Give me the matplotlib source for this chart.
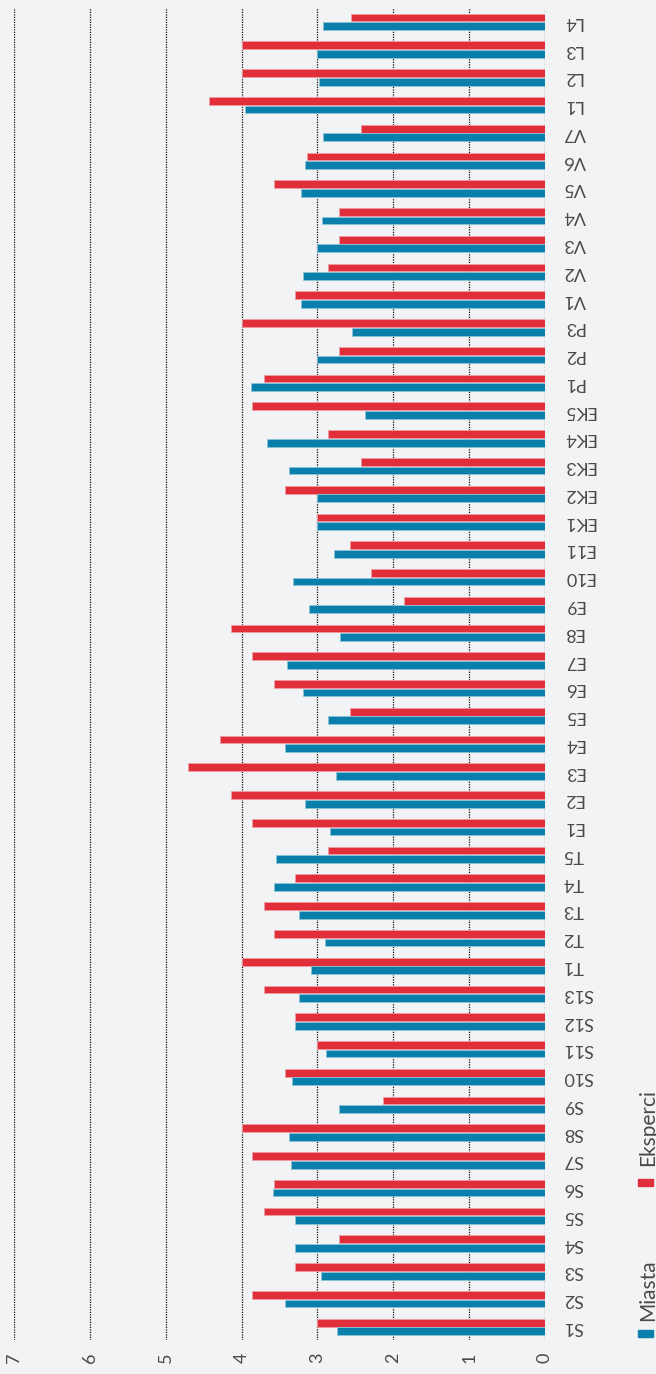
import numpy as np
import matplotlib
matplotlib.use("Agg")
import matplotlib.pyplot as plt
from matplotlib.patches import Rectangle

plt.rcParams['font.family'] = ['Lato', 'DejaVu Sans']

# kategorie od dołu (S1) do góry (L4)
labels = (['S%d' % i for i in range(1, 14)] + ['T%d' % i for i in range(1, 6)]
          + ['E%d' % i for i in range(1, 12)] + ['EK%d' % i for i in range(1, 6)]
          + ['P%d' % i for i in range(1, 4)] + ['V%d' % i for i in range(1, 8)]
          + ['L%d' % i for i in range(1, 5)])

miasta = [2.74, 3.43, 2.95, 3.30, 3.29, 3.58, 3.35, 3.38, 2.71, 3.33, 2.89, 3.30, 3.24,
          3.08, 2.90, 3.24, 3.57, 3.54,
          2.84, 3.16, 2.76, 3.43, 2.86, 3.19, 3.40, 2.70, 3.11, 3.32, 2.78,
          3.00, 3.00, 3.38, 3.67, 2.37,
          3.87, 3.01, 2.54,
          3.22, 3.19, 3.00, 2.94, 3.21, 3.16, 2.93,
          3.95, 2.98, 3.00, 2.92]

eksperci = [3.00, 3.86, 3.29, 2.71, 3.71, 3.57, 3.86, 4.00, 2.14, 3.43, 3.00, 3.29, 3.71,
            4.00, 3.57, 3.71, 3.29, 2.86,
            3.86, 4.14, 4.71, 4.29, 2.57, 3.57, 3.86, 4.14, 1.86, 2.29, 2.57,
            3.00, 3.43, 2.43, 2.86, 3.86,
            3.71, 2.71, 4.00,
            3.29, 2.86, 2.71, 2.71, 3.57, 3.14, 2.42,
            4.43, 4.00, 4.00, 2.56]

blue = '#0a7fab'
red = '#e02f3b'
bg = '#f2f3f5'
txt = '#4a4a4a'

fig = plt.figure(figsize=(6.56, 13.74), dpi=100, facecolor=bg)
ax = fig.add_axes([14 / 656, 1 - 1340 / 1374, (545 - 14) / 656, 1332 / 1374])
ax.set_facecolor(bg)

y = np.arange(len(labels))
h = 0.28
ax.barh(y + 0.155, eksperci, height=h, color=red, edgecolor='#ee9ea4', linewidth=0.6, zorder=3)
ax.barh(y - 0.155, miasta, height=h, color=blue, edgecolor='#8cc3d8', linewidth=0.6, zorder=3)

ax.set_xlim(7, 0)
ax.set_ylim(-0.47, 47.5)
ax.set_xticks(range(8))
ax.set_xticklabels([str(i) for i in range(8)], rotation=90, fontsize=13, color=txt)
ax.set_yticks(y)
ax.set_yticklabels(labels, rotation=180, fontsize=13, color=txt, va='center')
ax.yaxis.tick_right()
ax.tick_params(axis='both', length=0)
ax.tick_params(axis='y', pad=13)
ax.tick_params(axis='x', pad=9)
ax.grid(axis='x', linestyle=(0, (1, 1)), color='#111111', linewidth=0.9, zorder=0)
for s in ax.spines.values():
    s.set_visible(False)

# legenda
W, H = 656, 1374
fig.patches.append(Rectangle((638 / W, 1 - 1337 / H), 15 / W, 7.5 / H,
                             transform=fig.transFigure, color=blue, figure=fig))
fig.patches.append(Rectangle((638 / W, 1 - 1186 / H), 15 / W, 7.5 / H,
                             transform=fig.transFigure, color=red, figure=fig))
fig.text(648 / W, 1 - 1321 / H, 'Miasta', rotation=90, ha='center', va='bottom',
         fontsize=15, color=txt)
fig.text(648 / W, 1 - 1166 / H, 'Eksperci', rotation=90, ha='center', va='bottom',
         fontsize=15, color=txt)

fig.savefig('out.png', dpi=100, facecolor=bg)
